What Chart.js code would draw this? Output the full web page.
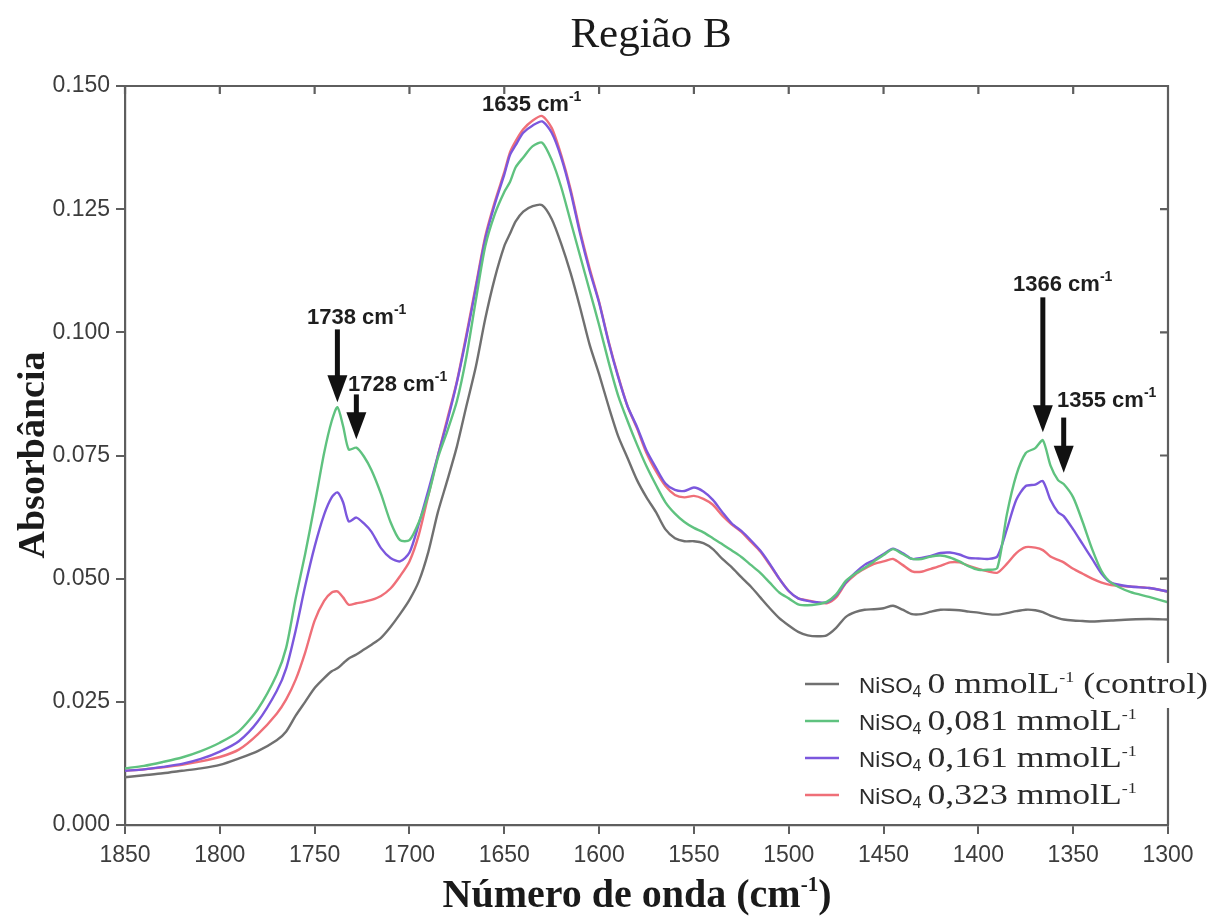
<!DOCTYPE html>
<html>
<head>
<meta charset="utf-8">
<script src="https://cdn.jsdelivr.net/npm/chart.js@4.4.1/dist/chart.umd.min.js"></script>
<style>
  html, body { margin: 0; padding: 0; background: #ffffff; }
  #wrap { width: 1210px; height: 920px; position: relative; }
</style>
</head>
<body>
<div id="wrap"><canvas id="c" width="1210" height="920"></canvas></div>
<script>
// FTIR spectra, region B (1850–1300 cm-1)
const wavenumbers = [1850,1840,1830,1820,1810,1800,1790,1780,1770,1765,1760,1755,1750,1745,1741,1738,1735,1732,1728,1724,1720,1715,1710,1705,1700,1695,1690,1685,1680,1675,1670,1665,1660,1655,1650,1647,1644,1640,1635,1630,1625,1620,1615,1610,1605,1600,1595,1590,1585,1580,1575,1570,1565,1560,1555,1550,1545,1540,1535,1530,1525,1520,1515,1510,1505,1500,1495,1490,1485,1480,1475,1470,1465,1460,1455,1450,1445,1440,1435,1430,1425,1420,1415,1410,1405,1400,1395,1390,1385,1380,1375,1370,1366,1362,1358,1355,1350,1345,1340,1335,1330,1320,1310,1300];

const control0 = [0.0097,0.0101,0.0105,0.0110,0.0115,0.0122,0.0135,0.0150,0.0172,0.0190,0.0222,0.0250,0.0278,0.0298,0.0312,0.0318,0.0328,0.0338,0.0346,0.0356,0.0366,0.0380,0.0402,0.0428,0.0457,0.0495,0.0555,0.0635,0.0700,0.0768,0.0850,0.0930,0.1028,0.1110,0.1175,0.1200,0.1225,0.1245,0.1256,0.1258,0.1230,0.1180,0.1120,0.1050,0.0975,0.0915,0.0850,0.0790,0.0745,0.0700,0.0665,0.0635,0.0600,0.0582,0.0576,0.0576,0.0572,0.0560,0.0540,0.0523,0.0503,0.0484,0.0462,0.0440,0.0420,0.0405,0.0392,0.0385,0.0383,0.0385,0.0400,0.0422,0.0432,0.0437,0.0438,0.0440,0.0445,0.0437,0.0428,0.0428,0.0433,0.0437,0.0437,0.0436,0.0433,0.0431,0.0428,0.0427,0.0430,0.0434,0.0437,0.0436,0.0432,0.0425,0.0420,0.0417,0.0415,0.0414,0.0413,0.0414,0.0415,0.0417,0.0418,0.0417];

const niso081 = [0.0115,0.0120,0.0128,0.0137,0.0150,0.0167,0.0190,0.0235,0.0305,0.0360,0.0460,0.0550,0.0650,0.0755,0.0820,0.0848,0.0810,0.0762,0.0766,0.0748,0.0720,0.0672,0.0615,0.0578,0.0578,0.0615,0.0670,0.0745,0.0800,0.0860,0.0950,0.1065,0.1175,0.1240,0.1285,0.1305,0.1335,0.1355,0.1378,0.1385,0.1350,0.1295,0.1225,0.1155,0.1085,0.1015,0.0940,0.0872,0.0820,0.0772,0.0728,0.0690,0.0655,0.0632,0.0615,0.0603,0.0594,0.0582,0.0570,0.0557,0.0544,0.0528,0.0512,0.0492,0.0472,0.0460,0.0448,0.0446,0.0448,0.0453,0.0468,0.0495,0.0510,0.0522,0.0535,0.0548,0.0560,0.0550,0.0540,0.0540,0.0545,0.0547,0.0543,0.0535,0.0525,0.0518,0.0518,0.0522,0.0630,0.0710,0.0755,0.0765,0.0781,0.0730,0.0700,0.0692,0.0665,0.0615,0.0560,0.0515,0.0492,0.0473,0.0463,0.0452];

const niso161 = [0.0110,0.0113,0.0118,0.0124,0.0134,0.0149,0.0170,0.0210,0.0272,0.0318,0.0395,0.0485,0.0565,0.0630,0.0665,0.0675,0.0655,0.0616,0.0624,0.0612,0.0595,0.0562,0.0542,0.0535,0.0553,0.0612,0.0680,0.0750,0.0820,0.0898,0.0990,0.1090,0.1190,0.1260,0.1320,0.1360,0.1380,0.1405,0.1420,0.1428,0.1405,0.1355,0.1285,0.1200,0.1125,0.1060,0.0980,0.0910,0.0850,0.0808,0.0760,0.0725,0.0693,0.0680,0.0678,0.0685,0.0677,0.0660,0.0635,0.0612,0.0597,0.0578,0.0557,0.0530,0.0500,0.0475,0.0460,0.0455,0.0452,0.0452,0.0466,0.0492,0.0512,0.0528,0.0538,0.0550,0.0561,0.0552,0.0540,0.0542,0.0546,0.0552,0.0553,0.0549,0.0542,0.0541,0.0540,0.0545,0.0600,0.0660,0.0688,0.0691,0.0698,0.0660,0.0635,0.0627,0.0600,0.0570,0.0540,0.0510,0.0492,0.0484,0.0481,0.0474];

const niso323 = [0.0110,0.0113,0.0117,0.0122,0.0129,0.0138,0.0153,0.0184,0.0226,0.0255,0.0295,0.0350,0.0415,0.0455,0.0472,0.0474,0.0462,0.0447,0.0450,0.0453,0.0457,0.0465,0.0480,0.0505,0.0535,0.0590,0.0670,0.0750,0.0825,0.0900,0.0995,0.1095,0.1195,0.1265,0.1325,0.1365,0.1388,0.1412,0.1430,0.1439,0.1415,0.1360,0.1290,0.1205,0.1130,0.1062,0.0982,0.0912,0.0850,0.0805,0.0755,0.0718,0.0688,0.0670,0.0665,0.0668,0.0662,0.0650,0.0628,0.0610,0.0595,0.0575,0.0555,0.0528,0.0500,0.0475,0.0460,0.0456,0.0452,0.0450,0.0462,0.0490,0.0508,0.0520,0.0530,0.0535,0.0540,0.0528,0.0515,0.0514,0.0520,0.0526,0.0533,0.0533,0.0526,0.0520,0.0515,0.0512,0.0530,0.0552,0.0564,0.0563,0.0558,0.0545,0.0538,0.0533,0.0520,0.0510,0.0500,0.0492,0.0487,0.0484,0.0481,0.0474];

const xTickValues = [1850,1800,1750,1700,1650,1600,1550,1500,1450,1400,1350,1300];
const yTickValues = [0.000,0.025,0.050,0.075,0.100,0.125,0.150];

const concentrations = ['0', '0,081', '0,161', '0,323'];
const peakPositions = [1635, 1738, 1728, 1366, 1355];

// ---- styling -------------------------------------------------------------
const lineColors = ['#707070', '#5fc27f', '#7b57dd', '#ef6f78'];
const AXIS = '#5e5e5e';
const TXT = '#2b2b2b';
const SANS = '"Liberation Sans", Arial, sans-serif';
const SERIF = '"Liberation Serif", "Times New Roman", serif';

// annotation layout in data units: label anchor (left, baseline) and arrow tail/tip
const peakNotes = [
  { text: peakPositions[0], at: [1661.7, 0.1449] },
  { text: peakPositions[1], at: [1754.0, 0.1016], arrow: [0.1006, 0.0858] },
  { text: peakPositions[2], at: [1732.4, 0.0880], arrow: [0.0874, 0.0783] },
  { text: peakPositions[3], at: [1381.7, 0.1083], arrow: [0.1071, 0.0797] },
  { text: peakPositions[4], at: [1358.5, 0.0848], arrow: [0.0827, 0.0715] }
];

function pts(arr) { return wavenumbers.map((w, i) => ({ x: w, y: arr[i] })); }

const seriesData = [control0, niso081, niso161, niso323];
const datasets = seriesData.map((arr, i) => ({
  label: 'NiSO4 ' + concentrations[i] + ' mmolL-1',
  data: pts(arr),
  borderColor: lineColors[i],
  borderWidth: 2.4,
  pointRadius: 0,
  tension: 0.25,
  fill: false
}));

// draws a sequence of text runs, each with own font, vertical shift and optional horizontal stretch
function runs(ctx, x, y, parts) {
  let cx = x;
  for (const p of parts) {
    ctx.font = p.font;
    const sx = p.sx || 1;
    ctx.save();
    ctx.translate(cx, y + (p.dy || 0));
    ctx.scale(sx, 1);
    ctx.fillText(p.t, 0, 0);
    ctx.restore();
    cx += ctx.measureText(p.t).width * sx + (p.gap || 0);
  }
  return cx;
}

const decor = {
  id: 'decor',
  afterDraw(chart) {
    const { ctx, chartArea: a, scales } = chart;
    const xs = scales.x, ys = scales.y;
    ctx.save();

    // top and right frame with inward ticks
    ctx.strokeStyle = AXIS;
    ctx.lineWidth = 2.2;
    ctx.beginPath();
    ctx.moveTo(a.left, a.top); ctx.lineTo(a.right, a.top); ctx.lineTo(a.right, a.bottom);
    xTickValues.forEach(v => {
      const px = xs.getPixelForValue(v);
      ctx.moveTo(px, a.top); ctx.lineTo(px, a.top + 8);
    });
    yTickValues.forEach(v => {
      const py = ys.getPixelForValue(v);
      ctx.moveTo(a.right, py); ctx.lineTo(a.right - 8, py);
    });
    ctx.stroke();

    // peak annotations
    ctx.fillStyle = '#1e1e1e';
    ctx.textBaseline = 'alphabetic';
    ctx.textAlign = 'left';
    peakNotes.forEach(n => {
      const lx = xs.getPixelForValue(n.at[0]);
      const ly = ys.getPixelForValue(n.at[1]);
      runs(ctx, lx, ly, [
        { t: n.text + ' cm', font: 'bold 22px ' + SANS },
        { t: '-1', font: 'bold 14px ' + SANS, dy: -10 }
      ]);
      if (n.arrow) {
        const ax = xs.getPixelForValue(n.text);
        const y0 = ys.getPixelForValue(n.arrow[0]);
        const y1 = ys.getPixelForValue(n.arrow[1]);
        const head = 27, hw = 10;
        ctx.strokeStyle = '#111';
        ctx.lineWidth = 5;
        ctx.beginPath(); ctx.moveTo(ax, y0); ctx.lineTo(ax, y1 - head + 2); ctx.stroke();
        ctx.fillStyle = '#111';
        ctx.beginPath();
        ctx.moveTo(ax - hw, y1 - head); ctx.lineTo(ax + hw, y1 - head); ctx.lineTo(ax, y1);
        ctx.closePath(); ctx.fill();
        ctx.fillStyle = '#1e1e1e';
      }
    });

    // legend
    const lgLeft = 805, rowY = [684, 721, 758, 795];
    ctx.fillStyle = '#ffffff';
    ctx.fillRect(796, 663, 414, 45);
    datasets.forEach((d, i) => {
      const y = rowY[i];
      ctx.strokeStyle = lineColors[i];
      ctx.lineWidth = 2.6;
      ctx.beginPath(); ctx.moveTo(lgLeft, y); ctx.lineTo(lgLeft + 34, y); ctx.stroke();
      ctx.fillStyle = TXT;
      const parts = [
        { t: 'NiSO', font: '22px ' + SANS, sx: 1.02 },
        { t: '4', font: '16px ' + SANS, dy: 4, gap: 6 },
        { t: concentrations[i] + ' mmolL', font: '29px ' + SERIF, sx: 1.23 },
        { t: '-1', font: '15px ' + SERIF, dy: -11, sx: 1.2 }
      ];
      if (i === 0) parts.push({ t: ' (control)', font: '29px ' + SERIF, sx: 1.23 });
      runs(ctx, 859, y + 9, parts);
    });

    // chart title
    ctx.fillStyle = '#1a1a1a';
    ctx.textAlign = 'center';
    ctx.font = '43px ' + SERIF;
    ctx.fillText('Região B', 651, 47);

    // x axis title
    ctx.textAlign = 'left';
    const xParts = [
      { t: 'Número de onda (cm', font: 'bold 40px ' + SERIF },
      { t: '-1', font: 'bold 21px ' + SERIF, dy: -16 },
      { t: ')', font: 'bold 40px ' + SERIF }
    ];
    let w = 0;
    xParts.forEach(p => { ctx.font = p.font; w += ctx.measureText(p.t).width; });
    runs(ctx, 637 - w / 2, 907, xParts);

    // y axis title
    ctx.save();
    ctx.translate(44, 455);
    ctx.rotate(-Math.PI / 2);
    ctx.textAlign = 'center';
    ctx.font = 'bold 38px ' + SERIF;
    ctx.fillText('Absorbância', 0, 0);
    ctx.restore();

    ctx.restore();
  }
};

new Chart(document.getElementById('c'), {
  type: 'line',
  data: { datasets },
  options: {
    responsive: false,
    animation: false,
    layout: { padding: { left: 0, right: 42, top: 86, bottom: 0 } },
    plugins: { legend: { display: false }, title: { display: false }, tooltip: { enabled: false } },
    scales: {
      x: {
        type: 'linear', reverse: true, min: 1300, max: 1850,
        afterBuildTicks: s => { s.ticks = xTickValues.map(v => ({ value: v })); },
        afterFit: s => { s.height = 95; },
        border: { display: true, color: AXIS, width: 2.2 },
        grid: { drawOnChartArea: false, drawTicks: true, tickLength: 9, color: AXIS, lineWidth: 2 },
        ticks: { color: '#3c3c3c', font: { family: SANS, size: 23 }, padding: 8, maxRotation: 0, autoSkip: false,
                 callback: v => String(v) }
      },
      y: {
        type: 'linear', min: 0, max: 0.15,
        afterBuildTicks: s => { s.ticks = yTickValues.map(v => ({ value: v })); },
        afterFit: s => { s.width = 125; },
        border: { display: true, color: AXIS, width: 2.2 },
        grid: { drawOnChartArea: false, drawTicks: true, tickLength: 9, color: AXIS, lineWidth: 2 },
        ticks: { color: '#3c3c3c', font: { family: SANS, size: 23 }, padding: 6,
                 callback: v => Number(v).toFixed(3) }
      }
    }
  },
  plugins: [decor]
});
</script>
</body>
</html>
